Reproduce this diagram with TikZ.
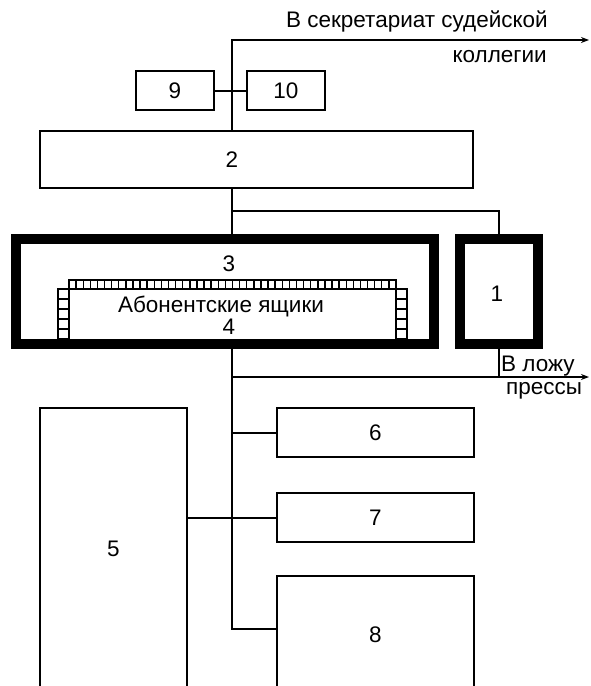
\documentclass[tikz,border=0pt]{standalone}
\usepackage{fontspec}
\setmainfont{Liberation Sans}
\usetikzlibrary{arrows.meta}
\begin{document}
\begin{tikzpicture}[x=1pt,y=-1pt,
  box/.style={draw,line width=2.2pt,inner sep=0pt,outer sep=0pt,font=\fontsize{22.5}{24}\selectfont},
  thickbox/.style={draw,line width=10pt,inner sep=0pt,outer sep=0pt},
  wire/.style={line width=2pt},
  arr/.style={wire,-{Stealth[length=8pt,width=6pt]}},
  lbl/.style={inner sep=0pt,font=\fontsize{22.5}{24}\selectfont},
  cell/.style={line width=1.4pt}]
\useasboundingbox (0,0) rectangle (590,686);
% boxes
\node[box,minimum width=78pt,minimum height=39pt] (b9) at (175,90.5) {9};
\node[box,minimum width=78pt,minimum height=39pt] (b10) at (286,90.5) {10};
\node[box,minimum width=433pt,minimum height=57pt] (b2) at (256.5,159.5) {};
\node[lbl] (l2) at (232,160) {2};
\node[thickbox,minimum width=418pt,minimum height=105pt] (b3) at (225,291.5) {};
\node[thickbox,minimum width=78pt,minimum height=105pt] (b1) at (499,291.5) {};
\node[lbl] (l1) at (497,294) {1};
\node[lbl] (l3) at (229,263.5) {3};
\node[box,minimum width=147pt,minimum height=282pt] (b5) at (113.5,549) {5};
\node[box,minimum width=197pt,minimum height=49pt] (b6) at (375.5,432.5) {6};
\node[box,minimum width=197pt,minimum height=49pt] (b7) at (375.5,517.5) {7};
\node[box,minimum width=197pt,minimum height=118pt] (b8) at (375.5,635) {8};
% mailbox strip
\draw[cell] (69,280) rectangle (396,289);
\foreach \i in {1,...,45} \draw[cell] ({69+\i*327/46},280) -- ({69+\i*327/46},289);
\draw[cell] (58,289) rectangle (69,339);
\draw[cell] (396,289) rectangle (407,339);
\foreach \j in {299,309,319,329} {\draw[cell] (58,\j) -- (69,\j); \draw[cell] (396,\j) -- (407,\j);}
\node[lbl,anchor=base] (abon) at (221,312) {Абонентские ящики};
\node[lbl] (l4) at (229,326.5) {4};
% texts
\node[lbl,anchor=base east] (t1) at (548,27) {В секретариат судейской};
\node[lbl,anchor=base east] (t2) at (547,62) {коллегии};
\node[lbl,anchor=base west] (t3) at (501,371) {В ложу};
\node[lbl,anchor=base west] (t4) at (506,394) {прессы};
% coordinates
\coordinate (top) at (232,40);
\coordinate (topend) at (589,40);
\coordinate (br1) at (232,211);
\coordinate (br2) at (232,377);
\coordinate (br2end) at (589,377);
\coordinate (c8) at (232,629);
% connectors
\draw[arr] (b2.north -| top) -- (top) -- (topend);
\draw[wire] (b9.east) -- (b10.west);
\draw[wire] (b2.south -| top) -- (b3.north -| top);
\draw[wire] (br1) -| (b1.north);
\draw[wire] (b3.south -| top) -- (c8) -- (c8 -| b8.west);
\draw[arr] (br2) -- (br2end);
\draw[wire] (b1.south) -- (b1.south |- br2);
\draw[wire] (b6.west -| top) -- (b6.west);
\draw[wire] (b7.west -| b5.east) -- (b7.west);
\end{tikzpicture}
\end{document}
